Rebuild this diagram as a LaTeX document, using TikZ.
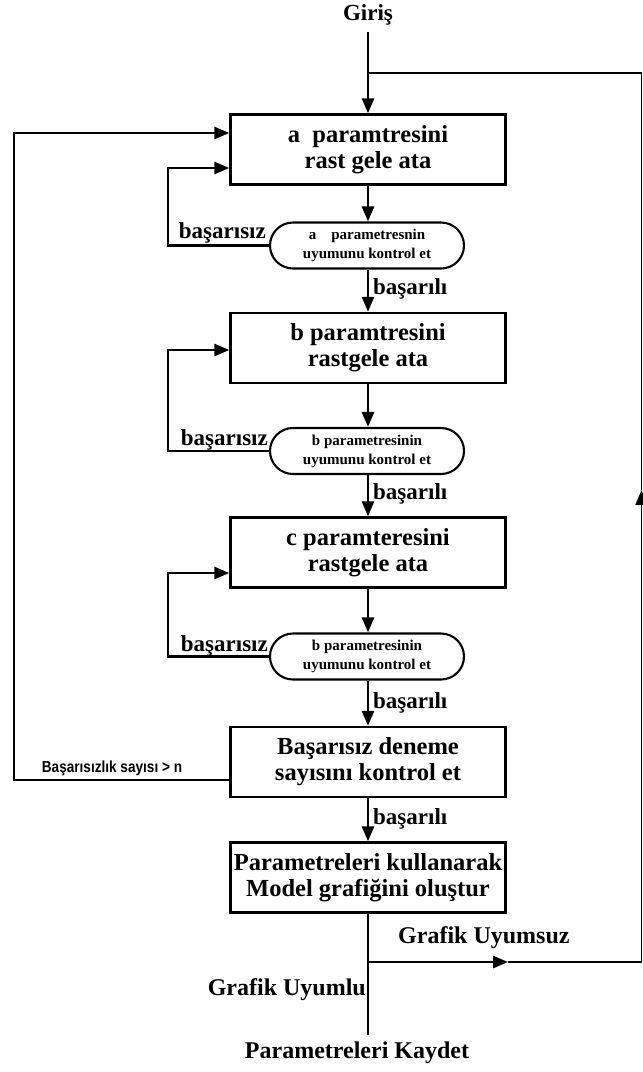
\documentclass[tikz,border=0pt]{standalone}
\usepackage{fontspec}
\setmainfont{Liberation Serif}
\newfontfamily\narrowsans[FakeStretch=0.85]{Liberation Sans}
\usetikzlibrary{arrows.meta,shapes.misc}
\begin{document}
\begin{tikzpicture}[x=1pt,y=-1pt,
  flow/.style={line width=2.8pt},
  arr/.style={flow,-{Triangle[length=15pt,width=12pt]}},
  procbox/.style={draw,line width=2.4pt,minimum width=275pt,minimum height=70pt,align=center,inner sep=0pt,font=\bfseries\fontsize{24.5}{26}\selectfont},
  capsule/.style={draw,rounded rectangle,line width=2.1pt,minimum width=194pt,minimum height=46pt,align=center,inner sep=0pt,font=\bfseries\fontsize{15}{19}\selectfont},
  lbl/.style={font=\bfseries\fontsize{23}{26}\selectfont,inner sep=0pt},
  biglbl/.style={font=\bfseries\fontsize{24}{26}\selectfont,inner sep=0pt},
]
\useasboundingbox[fill=white] (0,0) rectangle (643,1072);

% nodes
\node[lbl] (giris) at (368,15) {Giriş};
\node[procbox] (b1) at (368,149.5) {a\hspace{0.5em}paramtresini\\rast gele ata};
\node[capsule] (c1) at (367,245.5) {a\hspace{1em}parametresnin\\uyumunu kontrol et};
\node[procbox] (b2) at (368,348) {b paramtresini\\rastgele ata};
\node[capsule] (c2) at (367,451) {b parametresinin\\uyumunu kontrol et};
\node[procbox] (b3) at (368,552.5) {c paramteresini\\rastgele ata};
\node[capsule] (c3) at (367,656.5) {b parametresinin\\uyumunu kontrol et};
\node[procbox] (b4) at (368,762) {Başarısız deneme\\sayısını kontrol et};
\node[procbox] (b5) at (368,877.5) {Parametreleri kullanarak\\Model grafiğini oluştur};
\node[biglbl] (kaydet) at (357,1053) {Parametreleri Kaydet};

% labels
\node[lbl,anchor=base east] (f1) at (266,238) {başarısız};
\node[lbl,anchor=base east] (f2) at (268,445) {başarısız};
\node[lbl,anchor=base east] (f3) at (268,651) {başarısız};
\node[lbl,anchor=west] (s1) at (373,289) {başarılı};
\node[lbl,anchor=west] (s2) at (373,494) {başarılı};
\node[lbl,anchor=west] (s3) at (373,703) {başarılı};
\node[lbl,anchor=west] (s4) at (373,819) {başarılı};
\node[font=\narrowsans\bfseries\fontsize{16}{18}\selectfont,inner sep=0pt] (nlbl) at (112,768) {Başarısızlık sayısı > n};
\node[biglbl,anchor=west] (uyumsuz) at (398,938) {Grafik Uyumsuz};
\node[biglbl,anchor=east] (uyumlu) at (366,990) {Grafik Uyumlu};

% coordinates
\coordinate (jT) at (368,73);
\coordinate (rT) at (641.5,73);
\coordinate (mR) at (641.5,490);
\coordinate (rB) at (641.5,962);
\coordinate (jB) at (368,962);
\coordinate (mA) at (508,962);
\coordinate (endL) at (368,1035);
\coordinate (oL) at (14,780);
\coordinate (oT) at (14,133);
\coordinate (i1) at (168,168);
\coordinate (i2) at (168,350);
\coordinate (i3) at (168,573);

% main flow
\draw[arr] ([yshift=-6pt]giris.south) -- (b1.north);
\draw[arr] (b1.south) -- (b1.south |- c1.north);
\draw[arr] (b1.south |- c1.south) -- (b2.north);
\draw[arr] (b2.south) -- (b2.south |- c2.north);
\draw[arr] (b2.south |- c2.south) -- (b3.north);
\draw[arr] (b3.south) -- (b3.south |- c3.north);
\draw[arr] (b3.south |- c3.south) -- (b4.north);
\draw[arr] (b4.south) -- (b5.north);
\draw[flow] (b5.south) -- (endL);

% inner loops
\draw[arr] (c1.west) -| (i1) -- (b1.west |- i1);
\draw[arr] (c2.west) -| (i2) -- (b2.west |- i2);
\draw[arr] (c3.west) -| (i3) -- (b3.west |- i3);

% outer loop
\draw[arr] (b4.west |- oL) -- (oL) -- (oT) -- (b1.west |- oT);

% graph feedback
\draw[arr] (jB) -- (mA);
\draw[flow] (mA) -- (rB);
\draw[line width=1.6pt,-{Triangle[length=15pt,width=12pt]}] (rB) -- (mR);
\draw[line width=1.6pt] (mR) -- (rT) -- (jT);
\end{tikzpicture}
\end{document}
